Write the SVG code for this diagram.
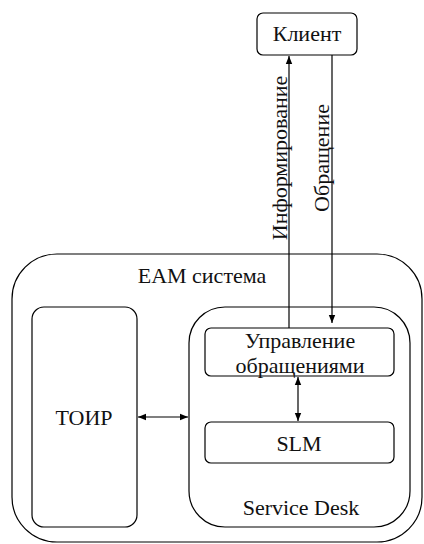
<svg xmlns="http://www.w3.org/2000/svg" width="424" height="544" viewBox="0 0 424 544">
<style>
.box{fill:#fff;stroke:#000;stroke-width:1.2}
.c{fill:none;stroke:#000;stroke-width:1.2}
</style>
<defs>
<marker id="ah" viewBox="0 0 10 10" refX="10" refY="5" markerWidth="8" markerHeight="8" markerUnits="userSpaceOnUse" orient="auto-start-reverse">
<path d="M0,1 L10,5 L0,9 Z" fill="#000"/>
</marker>
</defs>
<rect width="424" height="544" fill="#fff"/>
<g font-family="Liberation Serif, Times New Roman, DejaVu Serif, serif" font-size="22" fill="#111" text-anchor="middle">
<g id="eam">
<rect class="box" x="12" y="254" width="410" height="288" rx="45"/>
<text x="202" y="283">EAM система</text>
</g>
<g id="toir">
<rect class="box" x="32" y="307" width="105" height="220" rx="12"/>
<text x="84" y="425">ТОИР</text>
</g>
<g id="servicedesk">
<rect class="box" x="189" y="307" width="221" height="220" rx="36"/>
<text x="301" y="515">Service Desk</text>
</g>
<g id="upr">
<rect class="box" x="205" y="328" width="189" height="48" rx="6"/>
<text x="300" y="348">Управление</text>
<text x="300" y="373">обращениями</text>
</g>
<g id="slm">
<rect class="box" x="205" y="422" width="189" height="41" rx="6"/>
<text x="299" y="451">SLM</text>
</g>
<g id="client">
<rect class="box" x="257" y="13" width="100" height="42" rx="6"/>
<text x="307" y="41">Клиент</text>
</g>
<g id="connectors">
<line class="c" x1="289" y1="328" x2="289" y2="56" marker-end="url(#ah)"/>
<line class="c" x1="332" y1="55" x2="332" y2="323" marker-end="url(#ah)"/>
<line class="c" x1="298" y1="377" x2="298" y2="421" marker-start="url(#ah)" marker-end="url(#ah)"/>
<line class="c" x1="138" y1="417" x2="188" y2="417" marker-start="url(#ah)" marker-end="url(#ah)"/>
<text transform="translate(287,158) rotate(-90)">Информирование</text>
<text transform="translate(329,158) rotate(-90)">Обращение</text>
</g>
</g>
</svg>
